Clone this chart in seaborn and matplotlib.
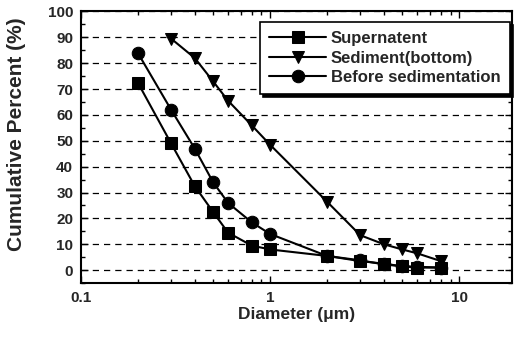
import matplotlib
matplotlib.use("Agg")
import matplotlib.pyplot as plt
import seaborn as sns
import pandas as pd
from matplotlib.ticker import MultipleLocator, FixedLocator, NullFormatter

diam_all = [0.2, 0.3, 0.4, 0.5, 0.6, 0.8, 1, 2, 3, 4, 5, 6, 8]
supernatent = [72.5, 49, 32.5, 22.5, 14.5, 9.5, 8, 5.5, 3.5, 2.5, 1.5, 1.0, 1.0]
diam_sed = [0.3, 0.4, 0.5, 0.6, 0.8, 1, 2, 3, 4, 5, 6, 8]
sediment = [89.5, 82, 73, 65.5, 56, 48.5, 26.5, 13.5, 10, 8, 6.5, 3.5]
before = [84, 62, 47, 34, 26, 18.5, 14, 5.5, 3.8, 2.2, 1.5, 1.3, 1.0]

names = ["Supernatent", "Sediment(bottom)", "Before sedimentation"]
rows = []
for x, y in zip(diam_all, supernatent):
    rows.append((x, y, names[0]))
for x, y in zip(diam_sed, sediment):
    rows.append((x, y, names[1]))
for x, y in zip(diam_all, before):
    rows.append((x, y, names[2]))
df = pd.DataFrame(rows, columns=["Diameter", "Percent", "Sample"])

sns.set_theme(style="white")
plt.rcParams['font.family'] = ['Liberation Sans', 'DejaVu Sans']
plt.rcParams['font.weight'] = 'bold'

fig = plt.figure(figsize=(5.15, 3.37), dpi=100)
ax = fig.add_axes([0.157, 0.160, 0.837, 0.806])

sns.lineplot(data=df, x="Diameter", y="Percent", hue="Sample", style="Sample",
             hue_order=names, style_order=names,
             palette=["black"] * 3, markers={names[0]: "s", names[1]: "v", names[2]: "o"},
             dashes=False, markersize=9, linewidth=1.5, markeredgecolor="black",
             ax=ax, legend=True, sort=True)

ax.set_xscale("log")
ax.set_xlim(0.1, 19)
ax.set_ylim(-5, 100)
ax.yaxis.set_major_locator(MultipleLocator(10))
ax.yaxis.set_minor_locator(MultipleLocator(5))
ax.xaxis.set_major_locator(FixedLocator([0.1, 1, 10]))
ax.set_xticklabels(["0.1", "1", "10"])
ax.xaxis.set_minor_formatter(NullFormatter())

for s in ax.spines.values():
    s.set_color("black")
    s.set_linewidth(1.5)

ax.tick_params(which="both", direction="in", top=True, right=True, bottom=True, left=True,
               color="black")
ax.tick_params(which="major", length=5, width=1, labelsize=11, pad=5.5)
ax.tick_params(which="minor", length=3, width=1)
for lab in ax.get_xticklabels() + ax.get_yticklabels():
    lab.set_fontweight("bold")

ax.grid(axis="y", which="major", color="black", linestyle=(0, (5, 4)), linewidth=0.9)

ax.set_xlabel("Diameter (\u03bcm)", fontsize=12.5, fontweight="bold", labelpad=2)
ax.set_ylabel("Cumulative Percent (%)", fontsize=15, fontweight="bold")
ax.yaxis.set_label_coords(-0.128, 0.549)

leg = ax.legend(loc="upper right", bbox_to_anchor=(0.995, 0.962), frameon=True,
                fancybox=False, shadow={"color": "black", "alpha": 1.0},
                prop={"weight": "bold", "size": 12}, handlelength=3.4,
                borderpad=0.55, labelspacing=0.28, handletextpad=0.3, borderaxespad=0)
leg.get_frame().set_edgecolor("black")
leg.get_frame().set_linewidth(1.2)
leg.get_frame().set_alpha(1)

fig.savefig("out.png", dpi=100)
